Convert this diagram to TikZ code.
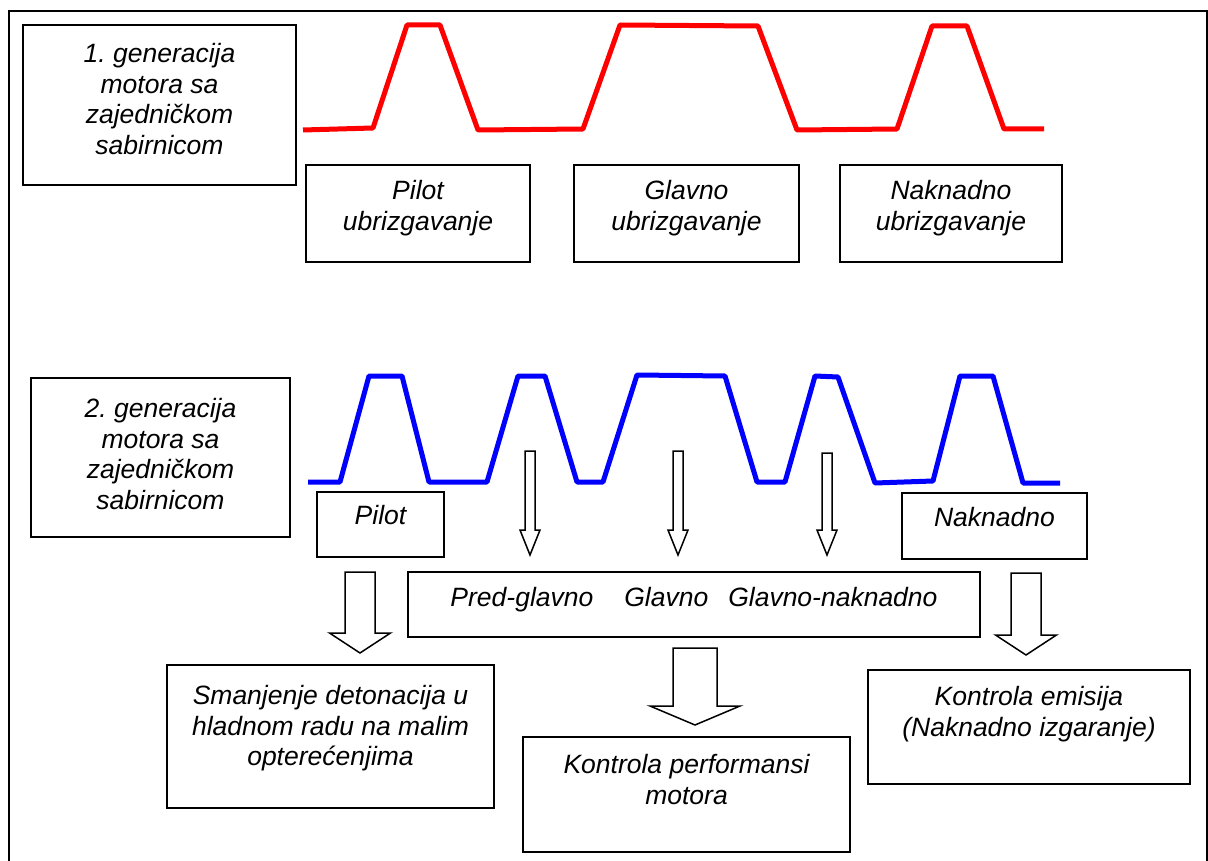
\documentclass[tikz,border=0pt]{standalone}
\usepackage{fontspec}
\setmainfont{Liberation Sans}
\usetikzlibrary{positioning}
\frenchspacing

\begin{document}
\begin{tikzpicture}[x=1pt, y=-1pt, font=\fontsize{26.5}{30.5}\selectfont\itshape]
        \tikzset{
            box/.style={draw=black, line width=1.7pt, inner sep=0pt},
            boxtext/.style={inner sep=0pt, align=center},
            pulseRed/.style={draw=red, line width=5pt, line join=round},
            pulseBlue/.style={draw=blue, line width=5pt, line join=round},
            hollowArrow/.style={draw=black, line width=1.5pt, fill=white}
        }

        \useasboundingbox (0,0) rectangle (1208,861);

        % outer frame, its bottom edge lies below the page
        \draw[line width=2pt] (9,880) -- (9,11) -- (1207,11) -- (1207,880);

        % first generation
        \node[box, minimum width=273pt, minimum height=160pt] (gen1) at (159.5,105) {};
        \node[boxtext, below=19pt of gen1.north] (gen1Text) {1. generacija\\motora sa\\zajedničkom\\sabirnicom};

        \draw[pulseRed] (303,130) -- (373,128) -- (407,25) -- (440,25) -- (478,130)
            -- (583,129) -- (620,25) -- (758,26) -- (797,130) -- (897,129)
            -- (932,26) -- (967,26) -- (1004,129) -- (1044,129);

        \node[box, minimum width=224pt, minimum height=97pt] (pilotA) at (418,213.5) {};
        \node[box, minimum width=225pt, minimum height=97pt] (glavnoA) at (686.5,213.5) {};
        \node[box, minimum width=222pt, minimum height=97pt] (naknadA) at (951,213.5) {};
        \node[boxtext, below=16pt of pilotA.north] (pilotAText) {Pilot\\ubrizgavanje};
        \node[boxtext, below=16pt of glavnoA.north] (glavnoAText) {Glavno\\ubrizgavanje};
        \node[boxtext, below=16pt of naknadA.north] (naknadAText) {Naknadno\\ubrizgavanje};

        % second generation
        \node[box, minimum width=259pt, minimum height=159pt] (gen2) at (160.5,457.5) {};
        \node[boxtext, below=21pt of gen2.north] (gen2Text) {2. generacija\\motora sa\\zajedničkom\\sabirnicom};

        \draw[pulseBlue] (308,482) -- (340,482) -- (369,376) -- (402,376) -- (429,482)
            -- (487,482) -- (518,376) -- (545,376) -- (577,482) -- (603,482)
            -- (637,375) -- (725,376) -- (757,482) -- (785,482) -- (815,376)
            -- (838,377) -- (875,483) -- (933,481) -- (960,376) -- (993,376)
            -- (1023,483) -- (1060,483);

        \node[box, minimum width=127pt, minimum height=65pt] (pilotB) at (380.5,524.5) {};
        \node[box, minimum width=185pt, minimum height=66pt] (naknadB) at (994.5,526) {};
        \node[box, minimum width=572pt, minimum height=65pt] (mainB) at (694,604.5) {};
        \node[boxtext, below=14pt of pilotB.north] (pilotBText) {Pilot};
        \node[boxtext, below=15pt of naknadB.north] (naknadBText) {Naknadno};
        \node[boxtext, below=16pt of mainB.north] (mainBText) {Pred-glavno\hspace{31pt}Glavno\hspace{20pt}Glavno-naknadno};

        % thin arrows from the pulses
        \foreach \cx/\ytop in {530/451, 678/451, 827/453} {
            \draw[hollowArrow] (\cx-5,\ytop) -- (\cx+5,\ytop) -- (\cx+5,530) -- (\cx+10,530)
                -- (\cx,555) -- (\cx-10,530) -- (\cx-5,530) -- cycle;
        }

        % wide arrows to the effects
        \foreach \cx/\ytop/\ysh/\ytip/\hs/\hh in {360/572/633/653/15/30.5, 695/648/706/725/22/45, 1026/573/635/655/15/30.5} {
            \draw[hollowArrow] (\cx-\hs,\ytop) -- (\cx+\hs,\ytop) -- (\cx+\hs,\ysh) -- (\cx+\hh,\ysh)
                -- (\cx,\ytip) -- (\cx-\hh,\ysh) -- (\cx-\hs,\ysh) -- cycle;
        }

        \node[box, minimum width=327pt, minimum height=143pt] (smanj) at (330.5,736.5) {};
        \node[box, minimum width=327pt, minimum height=115pt] (perf) at (686.5,794.5) {};
        \node[box, minimum width=322pt, minimum height=114pt] (emis) at (1029,727) {};
        \node[boxtext, below=21pt of smanj.north] (smanjText) {Smanjenje detonacija u\\hladnom radu na malim\\opterećenjima};
        \node[boxtext, below=18pt of perf.north] (perfText) {Kontrola performansi\\motora};
        \node[boxtext, below=17pt of emis.north] (emisText) {Kontrola emisija\\(Naknadno izgaranje)};
    \end{tikzpicture}
\end{document}
